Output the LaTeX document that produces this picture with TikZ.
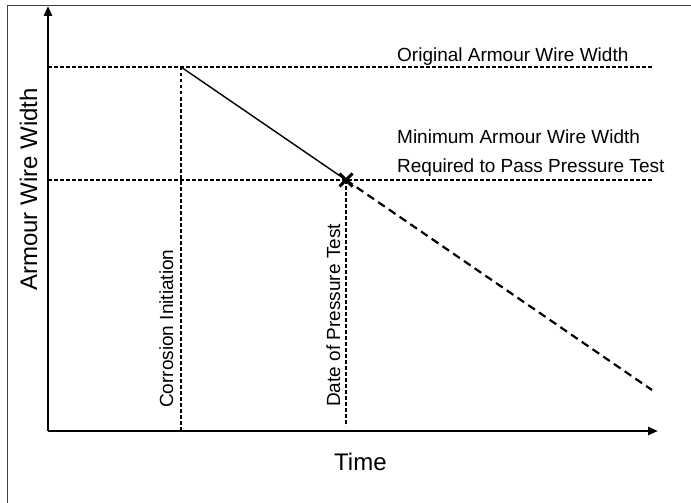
\documentclass[tikz,border=0pt]{standalone}
\usepackage{fontspec}
\setmainfont{Liberation Sans}
\usetikzlibrary{arrows.meta,calc}
\begin{document}
\begin{tikzpicture}[x=1pt,y=-1pt,
  axis/.style={line width=2.6pt,-{Triangle[length=10pt,width=8pt]}},
  guide/.style={line width=1.3pt,dash pattern=on 3.5pt off 2.5pt},
  trend/.style={line width=1.4pt},
  extrap/.style={line width=2.2pt,dash pattern=on 8pt off 5pt},
  lbl/.style={font=\fontsize{19}{23}\selectfont,inner sep=0pt,anchor=base west},
  biglbl/.style={font=\fontsize{24}{28}\selectfont,inner sep=0pt,anchor=base west}]
\useasboundingbox (0,0) rectangle (691,503);
% frame
\draw[line width=0.8pt,black!75] (7.5,5) rectangle (700,515);
% coordinates
\coordinate (O) at (48,431);
\coordinate (ytip) at (48,6);
\coordinate (xtip) at (658,431);
\coordinate (origL) at (48,67);
\coordinate (origR) at (652,67);
\coordinate (minL) at (48,180);
\coordinate (minR) at (652,180);
\coordinate (ci) at (181,67);
\coordinate (ciB) at (181,431);
\coordinate (pt) at (346,180);
\coordinate (ptB) at (346,426);
\coordinate (ext) at (652,390);
% guides
\draw[guide] (origL) -- (origR);
\draw[guide] (minL) -- (minR);
\draw[guide] (ci) -- (ciB);
\draw[guide] (pt) -- (ptB);
% trend
\draw[trend] (ci) -- (pt);
\draw[extrap] (pt) -- (ext);
% marker
\draw[line width=3pt] ($(pt)+(-6.5,-6.5)$) -- ($(pt)+(6.5,6.5)$);
\draw[line width=3pt] ($(pt)+(-6.5,6.5)$) -- ($(pt)+(6.5,-6.5)$);
% axes
\draw[axis] (O) -- (ytip);
\draw[axis] (O) -- (xtip);
% labels
\node[lbl] (lorig) at (397,61.5) {Original Armour Wire Width};
\node[lbl] (lmin1) at (397,143) {Minimum Armour Wire Width};
\node[lbl] (lmin2) at (397,172) {Required to Pass Pressure Test};
\node[lbl,rotate=90] (lci) at (173,408) {Corrosion Initiation};
\node[lbl,rotate=90] (lpt) at (340,407) {Date of Pressure Test};
\node[biglbl] (ltime) at (334,470) {Time};
\node[biglbl,rotate=90] (lyax) at (37,291) {Armour Wire Width};
\end{tikzpicture}
\end{document}
